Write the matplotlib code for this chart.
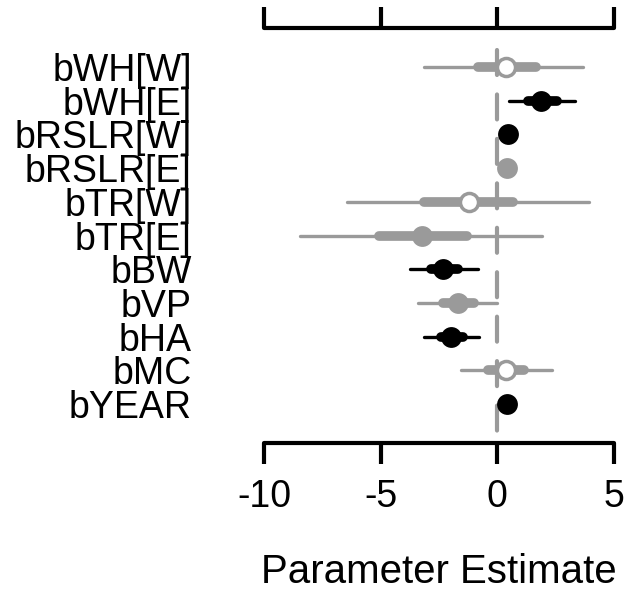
import numpy as np
import matplotlib.pyplot as plt

plt.rcParams['font.family'] = ['Liberation Sans', 'DejaVu Sans']
plt.rcParams['lines.scale_dashes'] = False

# posterior summaries
params = ["bWH[W]", "bWH[E]", "bRSLR[W]", "bRSLR[E]", "bTR[W]", "bTR[E]",
          "bBW", "bVP", "bHA", "bMC", "bYEAR"]
est = [0.38, 1.87, 0.47, 0.43, -1.23, -3.23, -2.34, -1.70, -2.00, 0.38, 0.43]
lo95 = [-3.15, 0.51, 0.25, 0.28, -6.43, -8.47, -3.74, -3.40, -3.15, -1.57, 0.35]
hi95 = [3.66, 3.32, 0.70, 0.60, 3.91, 1.91, -0.85, -0.02, -0.77, 2.34, 0.52]
lo50 = [-0.85, 1.32, 0.35, 0.35, -3.15, -5.06, -2.85, -2.34, -2.43, -0.38, 0.40]
hi50 = [1.66, 2.55, 0.60, 0.52, 0.68, -1.32, -1.70, -1.02, -1.49, 1.15, 0.47]
# style: 'black' = filled black, 'gray' = filled gray, 'open' = open gray circle
kind = ["open", "black", "black", "gray", "open", "gray",
        "black", "gray", "black", "open", "black"]

GRAY = "#9a9a9a"

fig = plt.figure(figsize=(6.26, 5.95), dpi=100)
ax = fig.add_axes([264 / 626, 152 / 595, 350 / 626, 415 / 595])

y = np.arange(len(params))

# zero reference line
ax.plot([0, 0], [-0.5, 11.16], color=GRAY, lw=3, dashes=(18, 14),
        solid_capstyle='round', dash_capstyle='round', zorder=1, clip_on=False)

for i in range(len(params)):
    c = "black" if kind[i] == "black" else GRAY
    ax.plot([lo95[i], hi95[i]], [y[i], y[i]], color=c, lw=2.4,
            solid_capstyle='round', zorder=2, clip_on=False)
    ax.plot([lo50[i], hi50[i]], [y[i], y[i]], color=c, lw=7,
            solid_capstyle='round', zorder=2, clip_on=False)
    if kind[i] == "open":
        ax.plot(est[i], y[i], 'o', ms=13, mfc='white', mec=GRAY, mew=2.5,
                zorder=3, clip_on=False)
    else:
        ax.plot(est[i], y[i], 'o', ms=15, mfc=c, mec=c, mew=0,
                zorder=3, clip_on=False)

ax.set_xlim(-10, 5)
ax.set_ylim(11.16, -1.16)

ax.set_yticks(y)
ax.set_yticklabels(params, fontsize=27)
ax.tick_params(axis='y', length=0, pad=52)

ax.set_xticks([-10, -5, 0, 5])
ax.set_xticklabels(["-10", "-5", "0", "5"], fontsize=27)
ax.tick_params(axis='x', which='both', direction='out', length=15, width=3,
               pad=11, top=True, labeltop=False)
ax.set_xlabel("Parameter Estimate", fontsize=29, labelpad=27)

for side in ['left', 'right']:
    ax.spines[side].set_visible(False)
for side in ['top', 'bottom']:
    ax.spines[side].set_linewidth(3)
    ax.spines[side].set_capstyle('round')
    ax.spines[side].set_bounds(-10, 5)

fig.savefig("out.png", dpi=100)
